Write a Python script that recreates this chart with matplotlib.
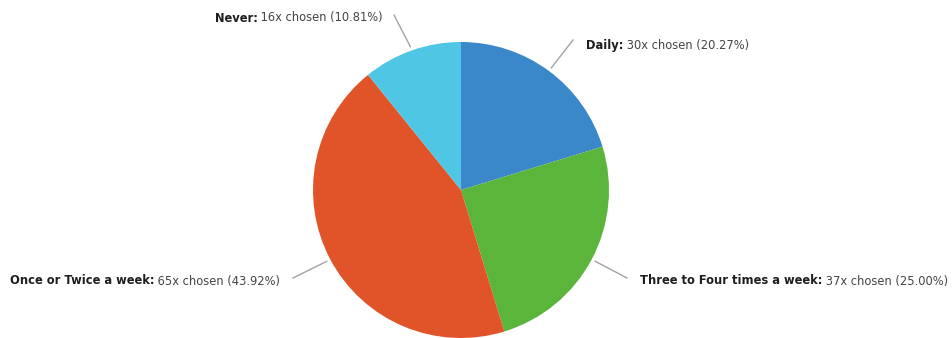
import matplotlib.pyplot as plt
import numpy as np

# data
labels = ['Daily', 'Three to Four times a week', 'Once or Twice a week', 'Never']
counts = [30, 37, 65, 16]
colors = ['#3a88c9', '#5bb53b', '#e1542a', '#4fc6e3']

total = sum(counts)

fig = plt.figure(figsize=(9.52, 3.38), dpi=100)
ax = fig.add_axes([0, 0, 1, 1])

# pie in pixel units (y up)
cx, cy, r = 461, 148, 148
wedges, _ = ax.pie(counts, colors=colors, startangle=90, counterclock=False,
                   center=(cx, cy), radius=r, wedgeprops=dict(linewidth=0))
ax.set_xlim(0, 952)
ax.set_ylim(0, 338)
ax.set_aspect('equal')
ax.axis('off')

# end of connector, text side and anchor
ends = [(573, 298), (627, 60), (293, 60), (394, 323)]
sides = ['left', 'left', 'right', 'right']
text_pos = [(586, 293), (640, 57), (280, 57), (383, 320)]

fig.canvas.draw()
renderer = fig.canvas.get_renderer()
fs = 8.3

for i, w in enumerate(wedges):
    ang = np.deg2rad((w.theta1 + w.theta2) / 2)
    x0 = cx + (r + 4) * np.cos(ang)
    y0 = cy + (r + 4) * np.sin(ang)
    ex, ey = ends[i]
    ax.plot([x0, ex], [y0, ey], color='#8c8c8c', alpha=0.8, linewidth=1.0)

    pct = counts[i] / total * 100
    bold = labels[i] + ':'
    rest = ' %dx chosen (%.2f%%)' % (counts[i], pct)
    tx, ty = text_pos[i]
    t1 = ax.text(0, ty, bold, fontsize=fs, fontweight='bold', color='#1e1e1e',
                 va='center', ha='left')
    t2 = ax.text(0, ty, rest, fontsize=fs, color='#444444', va='center', ha='left')
    w1 = t1.get_window_extent(renderer).width
    w2 = t2.get_window_extent(renderer).width
    if sides[i] == 'left':
        start = tx
    else:
        start = tx - w1 - w2
    t1.set_x(start)
    t2.set_x(start + w1)

plt.savefig('out.png', dpi=100)
plt.close()
